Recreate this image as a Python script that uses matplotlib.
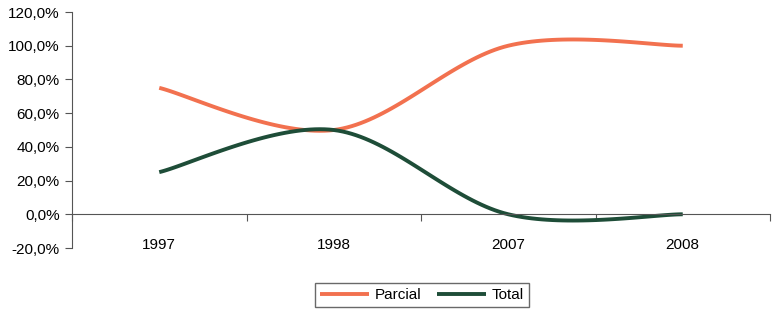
import numpy as np
import matplotlib.pyplot as plt
from matplotlib.ticker import FuncFormatter

years = ["1997", "1998", "2007", "2008"]
parcial = [75.0, 50.0, 100.0, 100.0]
total = [25.0, 50.0, 0.0, 0.0]

plt.rcParams['font.family'] = ['Liberation Sans', 'DejaVu Sans']


def smooth(xs, ys, n=40):
    # Catmull-Rom style smoothing, like Excel's "smoothed line"
    xs = np.asarray(xs, float)
    ys = np.asarray(ys, float)
    px = np.concatenate([[xs[0]], xs, [xs[-1]]])
    py = np.concatenate([[ys[0]], ys, [ys[-1]]])
    outx, outy = [], []
    for i in range(1, len(px) - 2):
        p0, p1, p2, p3 = (np.array([px[j], py[j]]) for j in range(i - 1, i + 3))
        c1 = p1 + (p2 - p0) / 6
        c2 = p2 - (p3 - p1) / 6
        t = np.linspace(0, 1, n)[:, None]
        b = (1 - t) ** 3 * p1 + 3 * (1 - t) ** 2 * t * c1 + 3 * (1 - t) * t ** 2 * c2 + t ** 3 * p2
        outx.extend(b[:, 0])
        outy.extend(b[:, 1])
    return outx, outy


fig = plt.figure(figsize=(7.79, 3.13), dpi=100)
ax = fig.add_axes([72 / 779, 1 - 248 / 313, (770 - 72) / 779, (248 - 12) / 313])

x = np.arange(len(years))
sx, sy = smooth(x, parcial)
ax.plot(sx, sy, color="#f2714f", lw=2.8, label="Parcial", solid_capstyle="butt")
sx, sy = smooth(x, total)
ax.plot(sx, sy, color="#1e4d38", lw=2.8, label="Total", solid_capstyle="butt")

ax.set_xlim(-0.5, len(years) - 0.5)
ax.set_ylim(-20, 120)
ax.set_yticks(np.arange(-20, 121, 20))
ax.yaxis.set_major_formatter(FuncFormatter(lambda v, p: f"{v:.1f}%".replace(".", ",")))
ax.tick_params(axis="y", direction="out", length=5, width=0.8, color="#555555", labelsize=11, pad=4)

ax.spines["top"].set_visible(False)
ax.spines["right"].set_visible(False)
ax.spines["left"].set_color("#555555")
ax.spines["bottom"].set_position(("data", 0))
ax.spines["bottom"].set_color("#555555")

ax.set_xticks(np.arange(len(years) + 1) - 0.5)
ax.set_xticklabels([])
ax.set_xticks(x, minor=True)
ax.set_xticklabels(years, minor=True)
ax.tick_params(axis="x", which="major", direction="out", length=5, width=0.8, color="#555555")
ax.tick_params(axis="x", which="minor", length=0, labelsize=11, pad=17)

fig.legend(loc="center", bbox_to_anchor=(422 / 779, 1 - 295 / 313), ncol=2, frameon=True,
           fancybox=False, edgecolor="#444444", fontsize=11, handlelength=3.2,
           handletextpad=0.4, columnspacing=1.0, borderpad=0.3)

fig.savefig("out.png", dpi=100)
